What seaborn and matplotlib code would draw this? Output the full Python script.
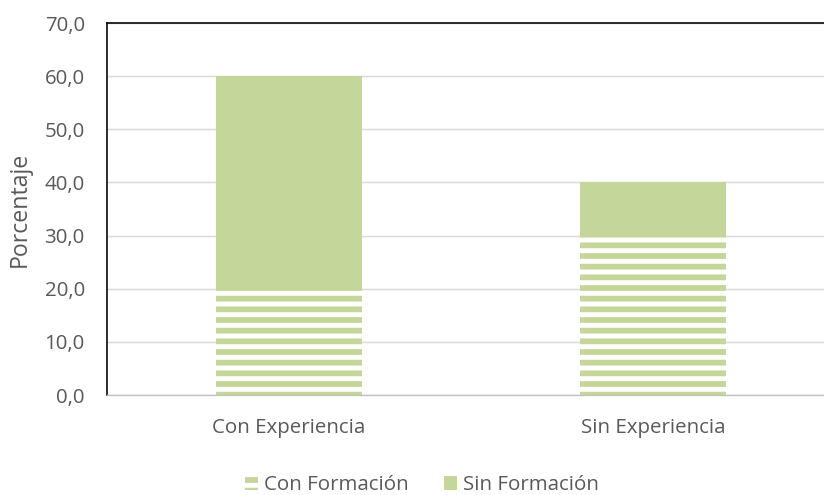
import pandas as pd
import seaborn as sns
import matplotlib.pyplot as plt
from matplotlib.patches import Patch

# data
categorias = ["Con Experiencia", "Sin Experiencia"]
con_formacion = [20.0, 30.0]
sin_formacion = [40.0, 10.0]

df = pd.DataFrame({
    "categoria": categorias,
    "con": con_formacion,
    "sin": sin_formacion,
})
df["total"] = df["con"] + df["sin"]

verde = "#c5d69b"
gris = "#595959"

sns.set_theme(style="white")
plt.rcParams["font.family"] = ["Open Sans", "DejaVu Sans"]
plt.rcParams["hatch.color"] = "white"
plt.rcParams["hatch.linewidth"] = 5.5

DPI = 64
fig = plt.figure(figsize=(824 / DPI, 495 / DPI), dpi=DPI)
ax = fig.add_axes([107 / 824, 1 - 395 / 495, 728 / 824, 372 / 495])

# stacked: total first (solid), then the hatched bottom part
sns.barplot(data=df, x="categoria", y="total", color=verde, width=0.4,
            saturation=1, ax=ax, linewidth=0, zorder=2)
sns.barplot(data=df, x="categoria", y="con", color=verde, width=0.4,
            saturation=1, ax=ax, linewidth=0, zorder=3)
n = len(categorias)
for p in ax.patches[n:]:
    p.set_hatch("-")

fs = 23
ax.set_ylim(0, 70)
ax.set_xlim(-0.5, n - 0.5)
ax.set_yticks(range(0, 71, 10))
ax.set_yticklabels([f"{v:.1f}".replace(".", ",") for v in range(0, 71, 10)])
ax.yaxis.grid(True, color="#d9d9d9", linewidth=1.6, zorder=0)
ax.set_axisbelow(True)
ax.tick_params(axis="both", length=0, labelsize=fs, colors=gris)
ax.tick_params(axis="y", pad=25)
ax.tick_params(axis="x", pad=26)
ax.set_xlabel("")
ax.set_ylabel("Porcentaje", fontsize=26, color=gris)
ax.yaxis.set_label_coords(-0.104, 0.5)

for s in ["left", "top"]:
    ax.spines[s].set_color("black")
    ax.spines[s].set_linewidth(1.8)
ax.spines["bottom"].set_color("#bfbfbf")
ax.spines["bottom"].set_linewidth(1.5)
ax.spines["right"].set_visible(False)

handles = [Patch(facecolor=verde, hatch="-", linewidth=0, label="Con Formación"),
           Patch(facecolor=verde, linewidth=0, label="Sin Formación")]
fig.legend(handles=handles, loc="center", bbox_to_anchor=(422 / 824, 1 - 485 / 495),
           ncol=2, frameon=False, fontsize=fs, labelcolor=gris,
           handlelength=0.65, handleheight=0.65, handletextpad=0.3, columnspacing=1.7)

fig.savefig("out.png", dpi=DPI)
